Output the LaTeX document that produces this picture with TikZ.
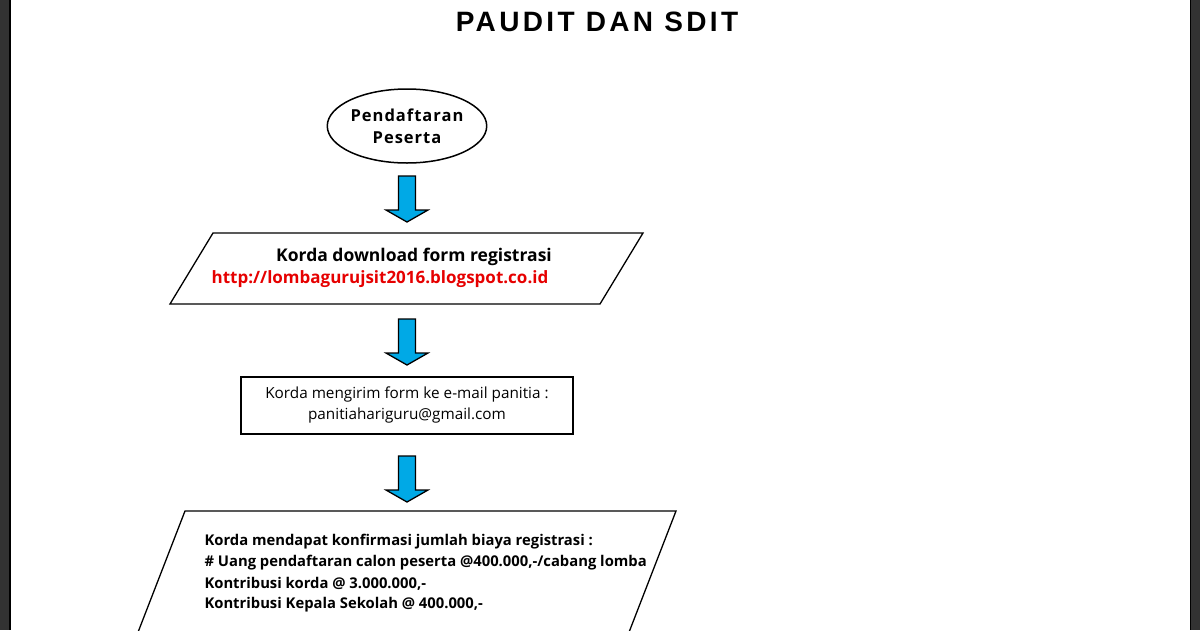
\documentclass[tikz,border=0pt]{standalone}
\usepackage{fontspec}
\usetikzlibrary{shapes.geometric}
\setmainfont{Open Sans}
\newfontfamily\titlefont{Liberation Sans}
\definecolor{arrowblue}{RGB}{0,169,230}
\definecolor{urlred}{RGB}{230,0,0}
\definecolor{bordergray}{RGB}{50,50,50}
\newcommand{\blockarrow}[2]{%
  \draw[fill=arrowblue,line width=1.3pt,line join=miter] (#1-8.5,#2) -- (#1+8.5,#2) -- (#1+8.5,#2+34) -- (#1+21,#2+34) -- (#1,#2+46) -- (#1-21,#2+34) -- (#1-8.5,#2+34) -- cycle;}
\begin{document}
\begin{tikzpicture}[x=1pt,y=-1pt,
  box/.style={draw,line width=1.3pt},
  qtext/.style={font=\bfseries\fontsize{14.8}{18}\selectfont, anchor=west}]
\useasboundingbox (0,0) rectangle (1200,630);
\fill[bordergray] (0,0) rectangle (9,630);
\fill[black] (9,0) rectangle (10.5,630);
\fill[bordergray] (1191,0) rectangle (1200,630);
\fill[black] (1189.5,0) rectangle (1191,630);
\node (title) at (597,22) {\titlefont\bfseries\fontsize{28}{32}\selectfont\addfontfeature{LetterSpace=12}PAUDIT DAN SDIT};
\node[draw,ellipse,line width=1.5pt,minimum width=152pt,minimum height=74pt,inner sep=0pt,
  align=center,font=\bfseries\fontsize{16.5}{22}\selectfont\addfontfeature{LetterSpace=6}] (start) at (407,126) {Pendaftaran\\Peserta};
\blockarrow{407}{176}
\draw[box] (213,233) -- (643,233) -- (600,304) -- (170,304) -- cycle;
\node[font=\bfseries\fontsize{17.5}{20}\selectfont] (p1a) at (414,257) {Korda download form registrasi};
\node[font=\bfseries\fontsize{17}{20}\selectfont, text=urlred] (p1b) at (380,279) {http://lombagurujsit2016.blogspot.co.id};
\blockarrow{407}{319}
\draw[box] (241,377) rectangle (573,434);
\node[font=\fontsize{15.3}{18}\selectfont] (r1) at (407,394) {Korda mengirim form ke e-mail panitia :};
\node[font=\fontsize{15.3}{18}\selectfont] (r2) at (407,416) {panitiahariguru@gmail.com};
\blockarrow{407}{456}
\draw[box] (185,511) -- (676,511) -- (626,640) -- (135,640) -- cycle;
\node[qtext] (q1) at (201,542) {Korda mendapat konfirmasi jumlah biaya registrasi :};
\node[qtext] (q2) at (201,563) {\# Uang pendaftaran calon peserta @400.000,-/cabang lomba};
\node[qtext] (q3) at (201,584) {Kontribusi korda @ 3.000.000,-};
\node[qtext] (q4) at (201,605) {Kontribusi Kepala Sekolah @ 400.000,-};
\end{tikzpicture}
\end{document}
